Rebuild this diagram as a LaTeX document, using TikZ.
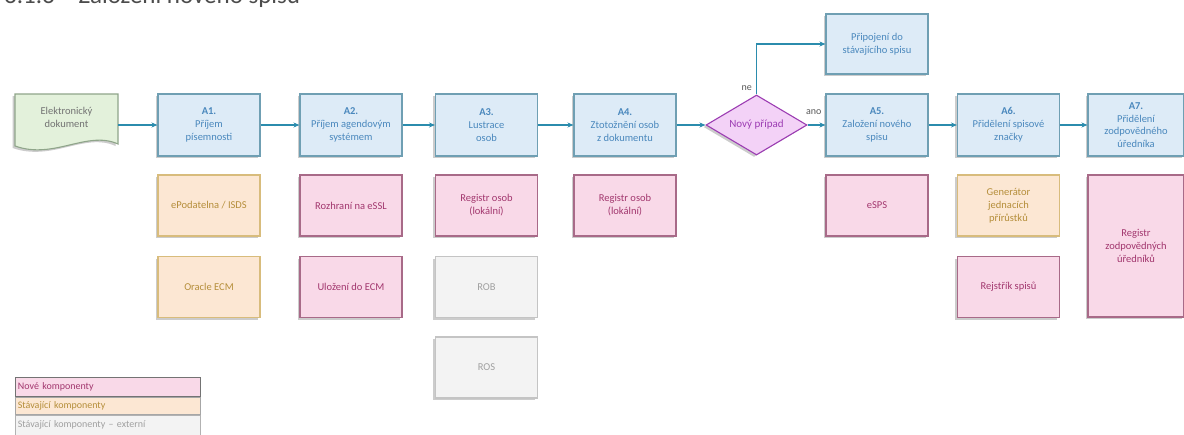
\documentclass[tikz,border=0pt]{standalone}
\usepackage{fontspec}
\setmainfont{Carlito}
\usetikzlibrary{shapes.geometric,arrows.meta,shadows}

\definecolor{flowblue}{HTML}{2B8CAD}
\definecolor{stepfill}{HTML}{DDEBF7}
\definecolor{stepline}{HTML}{6F9FB3}
\definecolor{steptext}{HTML}{4A88BD}
\definecolor{newfill}{HTML}{F9D9E8}
\definecolor{newline}{HTML}{A86A88}
\definecolor{newtext}{HTML}{A2376E}
\definecolor{oldfill}{HTML}{FCE7D3}
\definecolor{oldline}{HTML}{D8BC7C}
\definecolor{oldtext}{HTML}{B58E3A}
\definecolor{extfill}{HTML}{F3F3F3}
\definecolor{extline}{HTML}{C4C4C4}
\definecolor{exttext}{HTML}{A0A0A0}
\definecolor{decfill}{HTML}{F3D2F7}
\definecolor{decline}{HTML}{9C3DB3}
\definecolor{doclfill}{HTML}{E3F1DB}
\definecolor{docline}{HTML}{8FA58A}

\tikzset{
  boxshadow/.style={drop shadow={shadow xshift=-2.5pt, shadow yshift=-2pt, opacity=0.2, fill=black}},
  basebox/.style={rectangle, draw, line width=1.1pt, align=center, inner sep=2pt,
    font=\fontsize{10.5}{13}\selectfont, boxshadow},
  stepbox/.style={basebox, fill=stepfill, draw=stepline, text=steptext,
    minimum width=102pt, minimum height=62pt},
  newbox/.style={basebox, fill=newfill, draw=newline, text=newtext,
    minimum width=102pt, minimum height=61pt},
  oldbox/.style={basebox, fill=oldfill, draw=oldline, text=oldtext,
    minimum width=102pt, minimum height=61pt},
  extbox/.style={basebox, fill=extfill, draw=extline, text=exttext,
    minimum width=102pt, minimum height=61pt},
  decision/.style={diamond, aspect=1.7, draw=decline, fill=decfill, line width=1.1pt,
    text=decline, inner sep=1pt, minimum width=101pt, minimum height=60pt,
    font=\fontsize{11}{13}\selectfont, boxshadow},
  flow/.style={draw=flowblue, line width=1.2pt, -{Stealth[length=6pt,width=5pt]}},
  flowlabel/.style={font=\fontsize{10}{11}\selectfont, text=black!65},
  legendrow/.style={rectangle, draw=black!55, line width=0.8pt, anchor=north west,
    minimum width=185pt, minimum height=18pt, text width=180pt, align=left,
    inner sep=2pt, font=\fontsize{10}{11}\selectfont}
}

\begin{document}
\begin{tikzpicture}[x=1pt, y=-1pt]
  \useasboundingbox (0,0) rectangle (1184,434);
  \fill[white] (0,0) rectangle (1184,434);

  % heading of the chart
  \node[anchor=base west, inner sep=0pt, text=black!70,
        font=\fontsize{25}{28}\selectfont] (title) at (4,3)
        {3.1.3 – Založení nového spisu};

  % incoming document with a wavy lower edge
  \fill[black, opacity=0.2] (12.5,96) -- (115.5,96) -- (115.5,146)
     .. controls (85,132) and (52,162) .. (12.5,148) -- cycle;
  \filldraw[fill=doclfill, draw=docline, line width=1.1pt]
     (15,94) -- (118,94) -- (118,144)
     .. controls (87,130) and (54,160) .. (15,146) -- cycle;
  \node[align=center, text=black!55, font=\fontsize{10.5}{13}\selectfont,
        minimum width=103pt, minimum height=50pt] (doc) at (66.5,117)
        {Elektronický\\dokument};

  % process steps
  \node[stepbox] (a1) at (209,125) {\textbf{A1.}\\Příjem\\písemnosti};
  \node[stepbox] (a2) at (351,125) {\textbf{A2.}\\Příjem agendovým\\systémem};
  \node[stepbox] (a3) at (486.5,125) {\textbf{A3.}\\Lustrace\\osob};
  \node[stepbox] (a4) at (625,125) {\textbf{A4.}\\Ztotožnění osob\\z dokumentu};
  \node[decision] (dec) at (756.5,125) {Nový případ};
  \node[stepbox] (a5) at (877,125) {\textbf{A5.}\\Založení nového\\spisu};
  \node[stepbox] (a6) at (1008.5,125) {\textbf{A6.}\\Přidělení spisové\\značky};
  \node[stepbox, minimum width=96pt, font=\fontsize{10.5}{12.5}\selectfont] (a7) at (1136,125)
        {\textbf{A7.}\\Přidělení\\zodpovědného\\úředníka};
  \node[stepbox, minimum height=60pt] (join) at (877,44)
        {Připojení do\\stávajícího spisu};

  % components used by the steps
  \node[oldbox] (c11) at (209,205.5) {ePodatelna / ISDS};
  \node[oldbox] (c12) at (209,287) {Oracle ECM};
  \node[newbox] (c21) at (351,205.5) {Rozhraní na eSSL};
  \node[newbox] (c22) at (351,287) {Uložení do ECM};
  \node[newbox] (c31) at (486.5,205.5) {Registr osob\\(lokální)};
  \node[extbox] (c32) at (486.5,287) {ROB};
  \node[extbox] (c33) at (486.5,367.5) {ROS};
  \node[newbox] (c41) at (625,205.5) {Registr osob\\(lokální)};
  \node[newbox] (c51) at (877,205.5) {eSPS};
  \node[oldbox] (c61) at (1008.5,205.5) {Generátor\\jednacích\\přírůstků};
  \node[newbox] (c62) at (1008.5,287) {Rejstřík spisů};
  \node[newbox, minimum width=96pt, minimum height=142pt] (c71) at (1136,246)
        {Registr\\zodpovědných\\úředníků};

  % flow of the process
  \draw[flow] (doc.east |- a1.west) -- (a1.west);
  \draw[flow] (a1) -- (a2);
  \draw[flow] (a2) -- (a3);
  \draw[flow] (a3) -- (a4);
  \draw[flow] (a4) -- (dec);
  \draw[flow] (dec) -- (a5);
  \draw[flow] (a5) -- (a6);
  \draw[flow] (a6) -- (a7);
  \draw[flow] (dec.north) |- (join.west);
  \node[flowlabel, anchor=south east] (lno) at ([xshift=-1pt]dec.north) {ne};
  \node[flowlabel, anchor=south west] (lyes) at ([xshift=-5pt,yshift=7pt]dec.east) {ano};

  % legend
  \node[legendrow, fill=newfill, text=newtext, minimum height=19pt] (lg1) at (15,377)
        {Nové komponenty};
  \node[legendrow, fill=oldfill, text=oldtext, draw=black!35, minimum height=17pt] (lg2)
        at (lg1.south west) {Stávající komponenty};
  \node[legendrow, fill=extfill, text=exttext, draw=black!30, minimum height=20pt] (lg3)
        at (lg2.south west) {Stávající komponenty – externí};
\end{tikzpicture}
\end{document}
